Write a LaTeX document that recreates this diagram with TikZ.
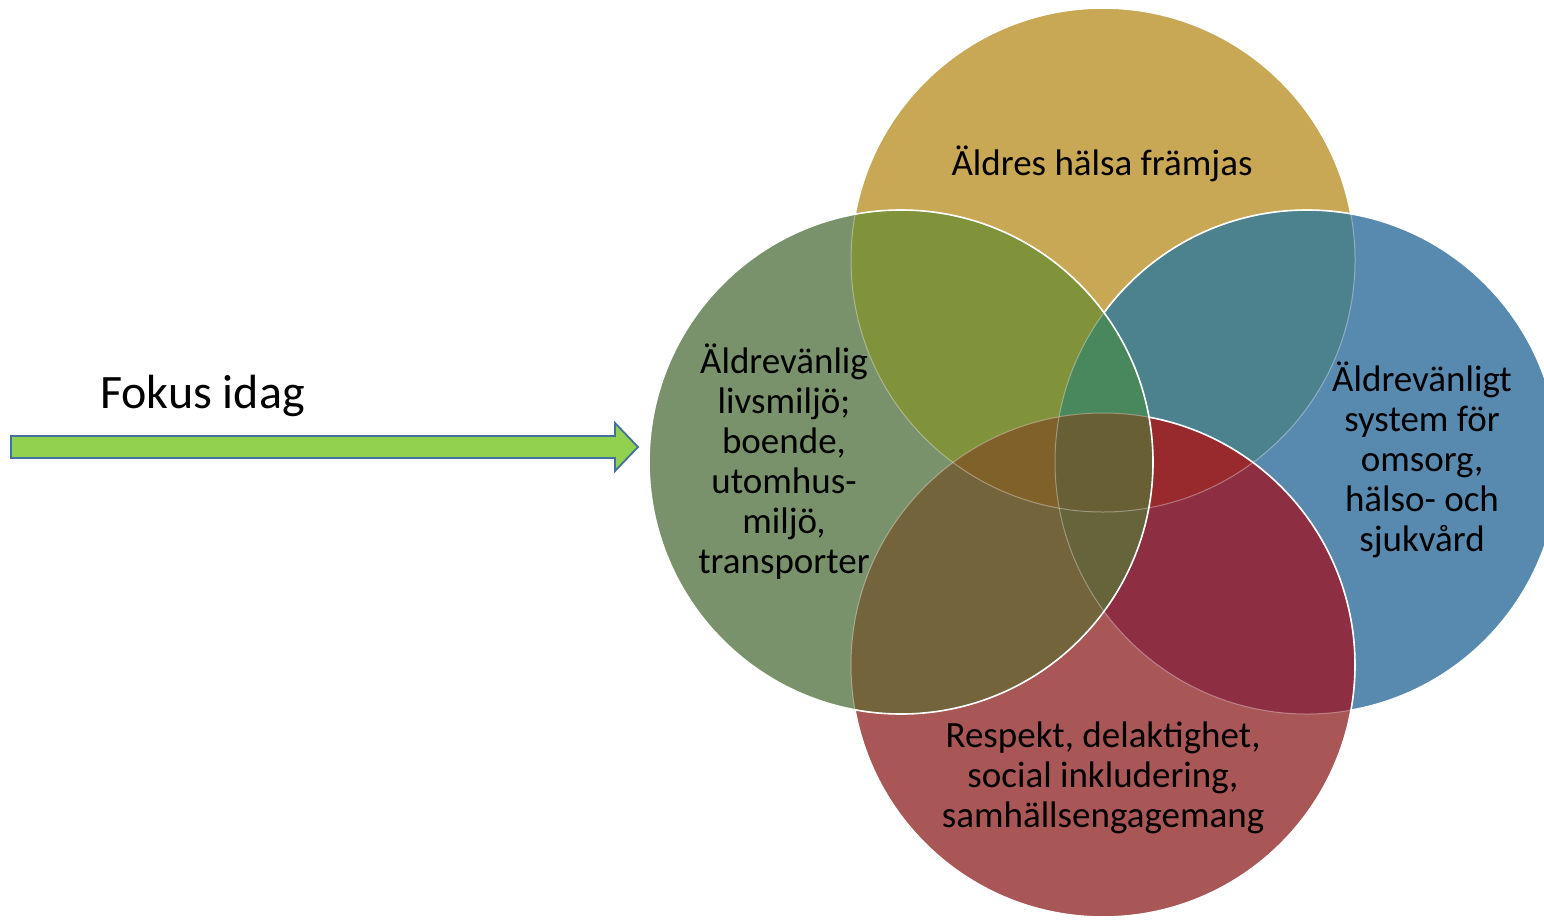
\documentclass[tikz,border=0pt]{standalone}
\usepackage{fontspec}
\setmainfont{Carlito}
\definecolor{cT}{RGB}{200,168,85}
\definecolor{cL}{RGB}{122,146,108}
\definecolor{cR}{RGB}{88,138,176}
\definecolor{cB}{RGB}{168,86,86}
\definecolor{cTL}{RGB}{128,146,58}
\definecolor{cTR}{RGB}{76,130,142}
\definecolor{cLB}{RGB}{115,100,60}
\definecolor{cRB}{RGB}{142,46,66}
\definecolor{cTLR}{RGB}{72,136,92}
\definecolor{cTRB}{RGB}{152,42,46}
\definecolor{cTLB}{RGB}{128,97,42}
\definecolor{cLRB}{RGB}{102,100,58}
\definecolor{cTLRB}{RGB}{104,95,52}
\definecolor{arrowfill}{RGB}{146,208,80}
\definecolor{arrowline}{RGB}{65,113,156}
\tikzset{
  lbl/.style={font=\fontsize{37}{40}\selectfont, align=center, text=black, inner sep=0pt},
  faintline/.style={draw=white, draw opacity=0.35, line width=1pt},
  edgeline/.style={draw=white, line width=1.6pt},
  arrowshape/.style={fill=arrowfill, draw=arrowline, line width=1.8pt, line join=miter}
}
\def\rr{252pt}
\begin{document}
\begin{tikzpicture}[x=1pt,y=-1pt]
\useasboundingbox (0,0) rectangle (1544,921);
\fill[white] (0,0) rectangle (1544,921);
\coordinate (T) at (1103,260);
\coordinate (R) at (1307,462);
\coordinate (B) at (1103,665);
\coordinate (L) at (901,462);
\begin{scope}
\clip (0,0) rectangle (1544,921);
% single circles
\fill[cT] (T) circle (\rr);
\fill[cR] (R) circle (\rr);
\fill[cB] (B) circle (\rr);
\fill[cL] (L) circle (\rr);
% pairs
\begin{scope}\clip (T) circle (\rr); \fill[cTL] (L) circle (\rr); \end{scope}
\begin{scope}\clip (T) circle (\rr); \fill[cTR] (R) circle (\rr); \end{scope}
\begin{scope}\clip (L) circle (\rr); \fill[cLB] (B) circle (\rr); \end{scope}
\begin{scope}\clip (R) circle (\rr); \fill[cRB] (B) circle (\rr); \end{scope}
% triples
\begin{scope}\clip (T) circle (\rr); \clip (L) circle (\rr); \fill[cTLR] (R) circle (\rr); \end{scope}
\begin{scope}\clip (T) circle (\rr); \clip (R) circle (\rr); \fill[cTRB] (B) circle (\rr); \end{scope}
\begin{scope}\clip (T) circle (\rr); \clip (L) circle (\rr); \fill[cTLB] (B) circle (\rr); \end{scope}
\begin{scope}\clip (L) circle (\rr); \clip (R) circle (\rr); \fill[cLRB] (B) circle (\rr); \end{scope}
% all four
\begin{scope}\clip (T) circle (\rr); \clip (L) circle (\rr); \clip (R) circle (\rr); \fill[cTLRB] (B) circle (\rr); \end{scope}
% faint outlines everywhere
\path[faintline] (T) circle (\rr);
\path[faintline] (R) circle (\rr);
\path[faintline] (B) circle (\rr);
\path[faintline] (L) circle (\rr);
% strong outlines where the circle lies on top
\begin{scope}[even odd rule]
  \clip (-10,-10) rectangle (1600,1000) (R) circle (\rr);
  \clip (-10,-10) rectangle (1600,1000) (B) circle (\rr);
  \clip (-10,-10) rectangle (1600,1000) (L) circle (\rr);
  \path[edgeline] (T) circle (\rr);
\end{scope}
\begin{scope}[even odd rule]
  \clip (-10,-10) rectangle (1600,1000) (B) circle (\rr);
  \clip (-10,-10) rectangle (1600,1000) (L) circle (\rr);
  \path[edgeline] (R) circle (\rr);
\end{scope}
\begin{scope}[even odd rule]
  \clip (-10,-10) rectangle (1600,1000) (L) circle (\rr);
  \path[edgeline] (B) circle (\rr);
\end{scope}
\path[edgeline] (L) circle (\rr);
\end{scope}
% labels
\node[lbl, anchor=base] (top) at (1102,175) {Äldres hälsa främjas};
\node[lbl] (left) at (784,462) {Äldrevänlig\\livsmiljö;\\boende,\\utomhus-\\miljö,\\transporter};
\node[lbl] (right) at (1422,460) {Äldrevänligt\\system för\\omsorg,\\hälso- och\\sjukvård};
\node[lbl] (bottom) at (1103,778) {Respekt, delaktighet,\\social inkludering,\\samhällsengagemang};
% arrow and its label
\node[anchor=base west, inner sep=0pt, font=\fontsize{48}{54}\selectfont] (fokus) at (100,408) {Fokus idag};
\draw[arrowshape] (11,436) -- (615,436) -- (615,423) -- (638,447) -- (615,471) -- (615,458) -- (11,458) -- cycle;
\end{tikzpicture}
\end{document}
